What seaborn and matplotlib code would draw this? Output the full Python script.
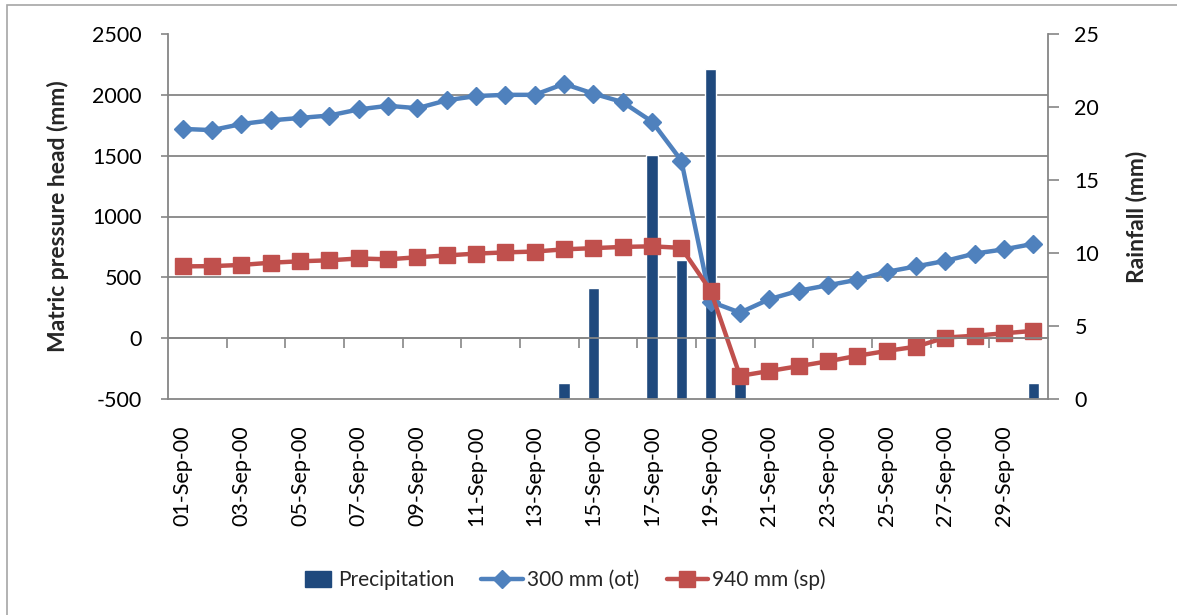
import matplotlib
matplotlib.use("Agg")
import matplotlib.pyplot as plt
import matplotlib.patches as mpatches
from matplotlib.lines import Line2D
from matplotlib.legend_handler import HandlerPatch
import seaborn as sns
import pandas as pd

# ---------------- data ----------------
dates = ["01-Sep-00", "02-Sep-00", "03-Sep-00", "04-Sep-00", "05-Sep-00",
         "06-Sep-00", "07-Sep-00", "08-Sep-00", "09-Sep-00", "10-Sep-00",
         "11-Sep-00", "12-Sep-00", "13-Sep-00", "14-Sep-00", "15-Sep-00",
         "16-Sep-00", "17-Sep-00", "18-Sep-00", "19-Sep-00", "20-Sep-00",
         "21-Sep-00", "22-Sep-00", "23-Sep-00", "24-Sep-00", "25-Sep-00",
         "26-Sep-00", "27-Sep-00", "28-Sep-00", "29-Sep-00", "30-Sep-00"]
day = list(range(1, 31))

precipitation = [0, 0, 0, 0, 0, 0, 0, 0, 0, 0,
                 0, 0, 0, 1.1, 7.6, 0.1, 16.7, 9.5, 22.6, 1.2,
                 0, 0, 0, 0, 0, 0, 0, 0, 0, 1.1]

head_300_ot = [1720, 1710, 1760, 1790, 1810, 1830, 1880, 1910, 1890, 1955,
               1990, 2000, 2000, 2090, 2010, 1940, 1780, 1460, 300, 210,
               320, 390, 435, 480, 545, 590, 635, 695, 730, 775]

head_940_sp = [590, 592, 602, 620, 632, 640, 655, 648, 665, 680,
               695, 705, 712, 730, 740, 750, 755, 742, 390, -310,
               -270, -230, -190, -145, -105, -70, 5, 20, 40, 60]

left_ticks = [-500, 0, 500, 1000, 1500, 2000, 2500]
right_ticks = [0, 5, 10, 15, 20, 25]

df = pd.DataFrame({"day": day, "date": dates, "precip": precipitation,
                   "ot": head_300_ot, "sp": head_940_sp})

# ---------------- style ----------------
sns.set_theme(style="white")
plt.rcParams["font.family"] = ["Lato", "DejaVu Sans"]
plt.rcParams["axes.unicode_minus"] = False

GRID = "#868686"
BAR = "#1F497D"
BLUE = "#4F81BD"
RED = "#C0504D"
FS = 15.5
FS_LAB = 16.5
FS_LEG = 15

W, H = 1177, 615
fig = plt.figure(figsize=(W / 100, H / 100), dpi=100)
fig.patch.set_facecolor("white")

L, R, T, B = 168, 1048, 34, 399
ax_b = fig.add_axes([L / W, 1 - B / H, (R - L) / W, (B - T) / H])
ax_l = ax_b.twinx()

LMIN, LMAX = -500, 2500
RMIN, RMAX = 0, 25

# bars (right scale)
sns.barplot(data=df, x="day", y="precip", ax=ax_b, color=BAR, saturation=1,
            width=0.39, native_scale=True, errorbar=None, zorder=2)

# lines (left scale)
sns.lineplot(data=df, x="day", y="ot", ax=ax_l, color=BLUE, lw=3.2,
             marker="D", markersize=9, markeredgecolor=BLUE, markeredgewidth=1,
             legend=False)
sns.lineplot(data=df, x="day", y="sp", ax=ax_l, color=RED, lw=3.2,
             marker="s", markersize=12, markeredgecolor=RED, markeredgewidth=1,
             legend=False)

# ---------------- axes ----------------
ax_b.set_xlim(0.5, 30.5)
ax_b.set_ylim(RMIN, RMAX)
ax_l.set_ylim(LMIN, LMAX)

# shared x ticks: labels on odd days, tick marks at every 2nd category boundary
ax_b.set_xticks(day[::2], dates[::2])
ax_b.set_xticks([d + 0.5 for d in day[1:-2:2]], minor=True)

ax_b.tick_params(axis="x", which="major", length=0, labelrotation=90,
                 pad=19, labelsize=FS, labelcolor="black")
ax_b.tick_params(axis="x", which="minor", length=0)

ax_l.xaxis.set_visible(True)
ax_l.spines["bottom"].set_position(("data", 0))
ax_l.tick_params(axis="x", which="major", length=0, labelbottom=False)
ax_l.tick_params(axis="x", which="minor", length=7, width=1.2, color=GRID,
                 direction="out", bottom=True, labelbottom=False)

# right axis (precipitation); horizontal gridlines follow the left-axis ticks
ax_b.yaxis.tick_right()
ax_b.yaxis.set_label_position("right")
ax_b.set_yticks(right_ticks)
grid_r = [RMIN + (v - LMIN) / (LMAX - LMIN) * (RMAX - RMIN) for v in left_ticks]
ax_b.set_yticks(grid_r, minor=True)
ax_b.tick_params(axis="y", which="major", length=8, width=1.2, color=GRID,
                 direction="out", pad=11, labelsize=FS, labelcolor="black",
                 right=True, left=False)
ax_b.tick_params(axis="y", which="minor", length=0)
ax_b.grid(axis="y", which="major", visible=False)
ax_b.grid(axis="y", which="minor", color=GRID, lw=1.3)
ax_b.grid(axis="x", visible=False)
ax_b.set_axisbelow(True)

# left axis (matric pressure head)
ax_l.yaxis.tick_left()
ax_l.yaxis.set_label_position("left")
ax_l.set_yticks(left_ticks)
ax_l.tick_params(axis="y", length=5, width=1.2, color=GRID, direction="out",
                 pad=14, labelsize=FS, labelcolor="black", left=True, right=False)
ax_l.grid(False)

ax_l.set_xlabel("")
ax_b.set_xlabel("")
ax_l.set_ylabel("Matric pressure head (mm)", fontsize=FS_LAB, fontweight="bold")
ax_b.set_ylabel("Rainfall (mm)", fontsize=FS_LAB, fontweight="bold")
ax_l.yaxis.set_label_coords((69 - L) / (R - L), 0.5)
ax_b.yaxis.set_label_coords((1126 - L) / (R - L), 0.5)

for sp in ["top", "right"]:
    ax_l.spines[sp].set_visible(False)
for sp in ["top", "left"]:
    ax_b.spines[sp].set_visible(False)
for a, s in [(ax_l, "left"), (ax_l, "bottom"), (ax_b, "right"), (ax_b, "bottom")]:
    a.spines[s].set_color(GRID)
    a.spines[s].set_linewidth(1.3)

# ---------------- legend ----------------
def small_patch(legend, orig_handle, xdescent, ydescent, width, height, fontsize):
    w = width * 0.62
    return mpatches.Rectangle((-xdescent + width - w - 0.15 * fontsize, -ydescent),
                              w, height)

handles = [
    mpatches.Patch(facecolor=BAR, edgecolor=BAR),
    Line2D([], [], color=BLUE, lw=3.2, marker="D", markersize=9,
           markeredgecolor=BLUE),
    Line2D([], [], color=RED, lw=3.2, marker="s", markersize=12,
           markeredgecolor=RED),
]
labels = ["Precipitation", "300 mm (ot)", "940 mm (sp)"]
fig.legend(handles, labels, loc="center", bbox_to_anchor=(559 / W, 1 - 580 / H),
           ncol=3, frameon=False, fontsize=FS_LEG, handlelength=2.0,
           handleheight=0.75, handletextpad=0.2, columnspacing=1.3,
           handler_map={mpatches.Patch: HandlerPatch(patch_func=small_patch)})

# chart border (light gray frame)
fig.add_artist(mpatches.Rectangle((7 / W, -0.2), 1.2, 1.2 - 5 / H,
                                  transform=fig.transFigure, fill=False,
                                  edgecolor="#A6A6A6", lw=1.2))

fig.savefig("out.png", dpi=100, facecolor="white")
